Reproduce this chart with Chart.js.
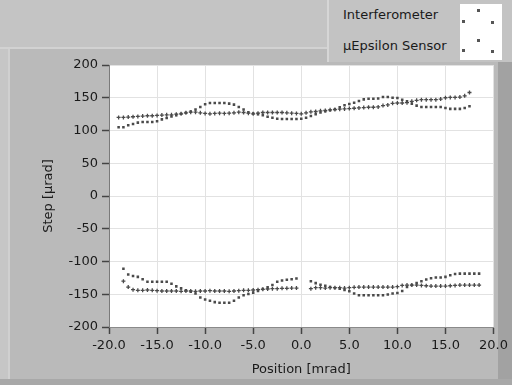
<!DOCTYPE html>
<html>
<head>
<meta charset="utf-8">
<script src="https://cdn.jsdelivr.net/npm/chart.js@4/dist/chart.umd.min.js"></script>
<style>
  html, body { margin: 0; padding: 0; background: #bababa; }
  #wrap { position: relative; width: 512px; height: 385px; overflow: hidden; }
  canvas { position: absolute; left: 0; top: 0; }
  #legend { position: absolute; left: 327px; top: 0; width: 185px; height: 62px;
            background: #c3c3c3; border-left: 2px solid #d6d6d6; box-sizing: border-box;
            font-family: "DejaVu Sans", sans-serif; font-size: 13px; color: #1a1a1a; }
  .lt { position: absolute; left: 14px; white-space: nowrap; }
  #sw { position: absolute; left: 131px; top: 4px; width: 42px; height: 56px; background: #fff; }
  .d { position: absolute; width: 3px; height: 3px; background: #555; }
</style>
</head>
<body>
<div id="wrap">
  <canvas id="c" width="512" height="385"></canvas>
  <div id="legend">
    <div class="lt" style="top:7px">Interferometer</div>
    <div class="lt" style="top:38px">µEpsilon Sensor</div>
    <div id="sw">
      <div class="d" style="left:2px;top:16px"></div>
      <div class="d" style="left:17px;top:5px"></div>
      <div class="d" style="left:31px;top:17px"></div>
      <div class="d" style="left:2px;top:45px"></div>
      <div class="d" style="left:17px;top:35px"></div>
      <div class="d" style="left:31px;top:46px"></div>
    </div>
  </div>
</div>
<script>
const positions = [-19,-18.5,-18,-17.5,-17,-16.5,-16,-15.5,-15,-14.5,-14,-13.5,-13,-12.5,-12,-11.5,-11,-10.5,-10,-9.5,-9,-8.5,-8,-7.5,-7,-6.5,-6,-5.5,-5,-4.5,-4,-3.5,-3,-2.5,-2,-1.5,-1,-0.5,0,0.5,1,1.5,2,2.5,3,3.5,4,4.5,5,5.5,6,6.5,7,7.5,8,8.5,9,9.5,10,10.5,11,11.5,12,12.5,13,13.5,14,14.5,15,15.5,16,16.5,17,17.5,18,18.5];

// Interferometer, positive steps
const interfUp = [105,105,108,110,112,113,113,113,114,117,119,121.5,123.5,125.5,127,129,132,136,140,142,142,142,142,141,139.5,136,132,128,126,125,123.5,121,119.5,118,117.5,117.5,117.5,117.5,118,119.5,122,125,127.5,129.5,131,132.5,135.5,138.5,140.5,142.5,145,147.5,148.5,148.5,149,151,151,150,149.5,147,144.5,141,138,136,136,136,136,136,134.5,133,133,133,134.5,137,null,null];
// Interferometer, negative steps
const interfDown = [null,-111,-120,-122,-123.5,-127,-131,-131,-131,-131,-131,-134,-138,-141,-144,-146,-149,-155,-158,-160,-162,-163,-163,-163,-160,-155,-151.5,-149.5,-147.5,-145,-142,-139.5,-136,-131,-129,-128,-127,-126,null,null,-130,-133,-135.5,-137,-139,-140.5,-141.5,-143.5,-145.5,-149,-151.5,-151.5,-151.5,-151.5,-151.5,-151.5,-150.5,-149,-148,-145,-139,-136,-133,-130,-127.5,-125.5,-124.5,-124.5,-123.5,-121,-119,-118.5,-118.5,-118.5,-118.5,-118.5];
// µEpsilon sensor, positive steps
const sensorUp = [120,120,120.5,121,121.5,122,122.5,122.5,123,123.5,124,124,125,125.5,127,128,128,127,126,125.5,126,126.5,126,126.5,127,128,127.5,126.5,125.5,126.5,127.5,127.5,127.5,127.5,127.5,127,126.5,126,125.5,127,128.5,129,130,130.5,131.5,132,132.5,133,133.5,134,134.5,135,135.5,135.5,136,138,139,141.5,142,142,142.5,144.5,146,147,147,147,147,148,150,150.5,150.5,151,153,158,null,null];
// µEpsilon sensor, negative steps
const sensorDown = [null,-130,-139,-143,-144,-144,-143.5,-144,-144.5,-145,-145,-145,-145,-145.5,-145,-145,-145.5,-145,-145,-144.5,-145,-145,-145,-145.5,-145,-144.5,-144,-144,-143.5,-143,-142.5,-142,-141.5,-141.5,-141,-141,-140.5,-140.5,null,null,-141.5,-140,-140,-140.5,-140,-140,-140,-140.5,-140,-139.5,-139,-139,-139,-139,-139,-139,-139,-139,-138.5,-136.5,-136,-136,-136,-136.5,-137,-137.5,-137.5,-137.5,-137.5,-137,-136.5,-136,-136,-136,-136,-136];

const xTicksLabel = "Position [mrad]";
const yTicksLabel = "Step [µrad]";
const seriesNames = ["Interferometer", "µEpsilon Sensor"];

function pts(a, b) {
  const out = [];
  [a, b].forEach(arr => arr.forEach((v, i) => { if (v !== null) out.push({x: positions[i], y: v}); }));
  return out;
}

const frame = {
  id: 'frame',
  beforeDraw(chart) {
    const ctx = chart.ctx, W = chart.width, H = chart.height, a = chart.chartArea;
    ctx.save();
    ctx.fillStyle = '#bababa'; ctx.fillRect(0, 0, W, H);
    ctx.fillStyle = '#c4c4c4'; ctx.fillRect(0, 0, W, 48);
    ctx.fillStyle = '#d2d2d2'; ctx.fillRect(0, 47, W, 2);
    ctx.fillStyle = '#c6c6c6'; ctx.fillRect(0, 49, 8, H - 49);
    ctx.fillStyle = '#d0d0d0'; ctx.fillRect(8, 49, 2, H - 49);
    ctx.fillStyle = '#a2a2a2'; ctx.fillRect(498, 49, W - 498, H - 49);
    ctx.fillStyle = '#a8a8a8'; ctx.fillRect(0, 379, W, H - 379);
    ctx.fillStyle = '#ffffff'; ctx.fillRect(a.left, a.top, a.right - a.left, a.bottom - a.top);
    ctx.restore();
  }
};

const font = { family: "DejaVu Sans", size: 13 };
new Chart(document.getElementById('c'), {
  type: 'scatter',
  data: {
    datasets: [
      { label: seriesNames[0], data: pts(interfUp, interfDown), pointStyle: 'rect', pointRadius: 1.8,
        backgroundColor: '#4a4a4a', borderColor: '#4a4a4a', borderWidth: 0, pointHoverRadius: 1.8 },
      { label: seriesNames[1], data: pts(sensorUp, sensorDown), pointStyle: 'cross', pointRadius: 2,
        backgroundColor: '#4a4a4a', borderColor: '#4a4a4a', borderWidth: 1.3, pointHoverRadius: 2 }
    ]
  },
  options: {
    responsive: false, animation: false, events: [],
    layout: { padding: { top: 65, right: 15, left: 0, bottom: 0 } },
    plugins: { legend: { display: false }, tooltip: { enabled: false } },
    scales: {
      x: {
        type: 'linear', min: -20, max: 20,
        afterFit(s) { s.height = 58; },
        ticks: { stepSize: 5, color: '#1a1a1a', font, padding: 4, maxRotation: 0,
                 callback: v => v.toFixed(1) },
        grid: { color: '#e2e2e2', tickColor: '#444', tickLength: 7, tickWidth: 1.5 },
        border: { color: '#8a8a8a' },
        title: { display: true, text: xTicksLabel, color: '#1a1a1a', font, padding: { top: 0, bottom: 8 } }
      },
      y: {
        min: -200, max: 200,
        afterFit(s) { s.width = 109; },
        ticks: { stepSize: 50, color: '#1a1a1a', font, padding: 4 },
        grid: { color: '#e2e2e2', tickColor: '#444', tickLength: 7, tickWidth: 1.5 },
        border: { color: '#7a7a7a' },
        title: { display: true, text: yTicksLabel, color: '#1a1a1a', font, padding: { top: 41, bottom: 0 } }
      }
    }
  },
  plugins: [frame]
});
</script>
</body>
</html>
